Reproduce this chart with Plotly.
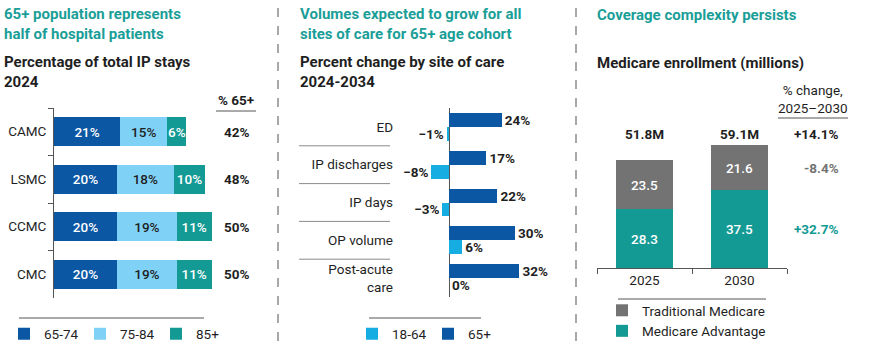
import plotly.graph_objects as go

W, H = 875, 355
def px(x): return x / W
def py(y): return 1 - y / H

FONT = "Roboto"
DARK = "#1f1f1f"
TEAL_T = "#1a9e98"
AXC = "#555555"

# ---- Left panel data ----
hospitals = ["CAMC", "LSMC", "CCMC", "CMC"]
age_groups = ["65-74", "75-84", "85+"]
share_6574 = [21, 20, 20, 20]
share_7584 = [15, 18, 19, 19]
share_85p = [6, 10, 11, 11]
pct_65plus = [42, 48, 50, 50]

# ---- Middle panel data ----
sites = ["ED", "IP discharges", "IP days", "OP volume", "Post-acute<br>care"]
chg_65plus = [24, 17, 22, 30, 32]
chg_1864 = [-1, -8, -3, 6, 0]

# ---- Right panel data ----
years = ["2025", "2030"]
medicare_adv = [28.3, 37.5]
traditional = [23.5, 21.6]
chg_traditional = "-8.4%"
chg_adv = "+32.7%"
chg_total = "+14.1%"

C_6574 = "#0b57a4"
C_7584 = "#80d1f6"
C_85 = "#139a94"
C_1864 = "#16ade3"
C_65 = "#0b57a4"
C_TM = "#737373"
C_MA = "#139a94"

fig = go.Figure()

# Left stacked bars
for name, vals, col, tcol in [("65-74", share_6574, C_6574, "white"),
                              ("75-84", share_7584, C_7584, DARK),
                              ("85+", share_85p, C_85, "white")]:
    fig.add_trace(go.Bar(
        y=hospitals, x=vals, orientation="h", name=name, xaxis="x", yaxis="y",
        width=0.61, marker=dict(color=col, line=dict(width=0)),
        texttemplate="%{x}%", textposition="inside", insidetextanchor="middle",
        textangle=0, constraintext="none",
        textfont=dict(color=tcol, size=13.5, family=FONT, weight=500),
        legend="legend", hoverinfo="skip"))

# Middle grouped bars (numeric positions per site index)
idx = list(range(len(sites)))
fig.add_trace(go.Bar(
    y=[i + 0.185 for i in idx], x=chg_1864, orientation="h", name="18-64",
    xaxis="x2", yaxis="y2", width=0.37, marker=dict(color=C_1864, line=dict(width=0)),
    texttemplate="%{x}%", textposition="outside", cliponaxis=False, constraintext="none",
    textangle=0, textfont=dict(color=DARK, size=13.5, family=FONT, weight="bold"),
    legend="legend2", hoverinfo="skip"))
fig.add_trace(go.Bar(
    y=[i - 0.185 for i in idx], x=chg_65plus, orientation="h", name="65+",
    xaxis="x2", yaxis="y2", width=0.37, marker=dict(color=C_65, line=dict(width=0)),
    texttemplate="%{x}%", textposition="outside", cliponaxis=False, constraintext="none",
    textangle=0, textfont=dict(color=DARK, size=13.5, family=FONT, weight="bold"),
    legend="legend2", hoverinfo="skip"))

# Right stacked columns
fig.add_trace(go.Bar(
    x=years, y=medicare_adv, name="Medicare Advantage", xaxis="x3", yaxis="y3",
    width=0.6, marker=dict(color=C_MA, line=dict(width=0)),
    texttemplate="%{y:.1f}", textposition="inside", insidetextanchor="middle",
    textangle=0, constraintext="none",
    textfont=dict(color="white", size=13.5, family=FONT, weight=500),
    legend="legend3", hoverinfo="skip"))
fig.add_trace(go.Bar(
    x=years, y=traditional, name="Traditional Medicare", xaxis="x3", yaxis="y3",
    width=0.6, marker=dict(color=C_TM, line=dict(width=0)),
    texttemplate="%{y:.1f}", textposition="inside", insidetextanchor="middle",
    textangle=0, constraintext="none",
    textfont=dict(color="white", size=13.5, family=FONT, weight=500),
    legend="legend3", hoverinfo="skip"))

ann = []
def text(x, y, s, size=13, color=DARK, bold=False, xanchor="left", yanchor="middle",
         xref="paper", yref="paper", align="left"):
    ann.append(dict(x=x, y=y, xref=xref, yref=yref, text=s, showarrow=False,
                    xanchor=xanchor, yanchor=yanchor, align=align,
                    font=dict(family=FONT, size=size, color=color,
                              weight="bold" if bold else "normal")))

# Titles
text(px(2), py(24), "65+ population represents<br>half of hospital patients", 15, TEAL_T, True)
text(px(2), py(72), "Percentage of total IP stays<br>2024", 15, DARK, True)
text(px(298), py(24), "Volumes expected to grow for all<br>sites of care for 65+ age cohort", 15, TEAL_T, True)
text(px(298), py(72), "Percent change by site of care<br>2024-2034", 15, DARK, True)
text(px(595), py(15), "Coverage complexity persists", 15, TEAL_T, True)
text(px(595), py(63), "Medicare enrollment (millions)", 15, DARK, True)

# Left: % 65+ column
text(px(236), py(100), "% 65+", 13.5, DARK, True, xanchor="center")
for h, v in zip(hospitals, pct_65plus):
    text(px(236), h, f"{v}%", 13.5, DARK, True, xanchor="center", yref="y")

# Right: totals and % change
text(px(813), py(99), "% change,<br>2025\u20132030", 13.5, DARK, False, xanchor="center", align="center")
for i, (a, b) in enumerate(zip(medicare_adv, traditional)):
    text(i, py(134), f"{a + b:.1f}M", 13.5, DARK, True, xanchor="center", xref="x3")
text(px(841), py(134), chg_total, 13.5, DARK, True, xanchor="right")
text(px(841), traditional[1] / 2 + medicare_adv[1], chg_traditional, 13.5, "#737373", True,
     xanchor="right", yref="y3")
text(px(841), medicare_adv[1] / 2, chg_adv, 13.5, "#139a94", True, xanchor="right", yref="y3")

shapes = []
def hline(x0, x1, y, color=AXC, width=1, yref="paper", yv=None):
    shapes.append(dict(type="line", xref="paper", yref=yref, x0=px(x0), x1=px(x1),
                       y0=py(y) if yv is None else yv, y1=py(y) if yv is None else yv,
                       line=dict(color=color, width=width)))

hline(216, 256, 111)
hline(778, 848, 118)
hline(19, 204, 318)
hline(369, 481, 318)
hline(618, 766, 299)
for k in range(1, len(sites)):
    hline(299, 390, 0, color="#8a8a8a", width=1, yref="y2", yv=k - 0.5)
for xs in (278, 576):
    shapes.append(dict(type="line", xref="paper", yref="paper", x0=px(xs), x1=px(xs),
                       y0=py(8), y1=py(345),
                       line=dict(color="#8c8c8c", width=1.5, dash="dash")))

leg_common = dict(font=dict(family=FONT, size=13.5, color=DARK), bgcolor="rgba(0,0,0,0)",
                  borderwidth=0, itemclick=False, itemdoubleclick=False)

fig.update_layout(
    width=W, height=H, margin=dict(l=0, r=0, t=0, b=0, autoexpand=False),
    paper_bgcolor="white", plot_bgcolor="white",
    barmode="stack", font=dict(family=FONT, size=13, color=DARK),
    xaxis=dict(domain=[px(54), px(54 + 60 * 3.15)], range=[0, 60], visible=False, anchor="y"),
    yaxis=dict(domain=[py(298), py(108)], anchor="x", type="category",
               categoryorder="array", categoryarray=hospitals, range=[3.5, -0.5],
               showline=True, linecolor=AXC, linewidth=1, ticks="outside", ticklen=5,
               tickcolor=AXC, tickson="boundaries", showgrid=False, zeroline=False,
               ticklabelstandoff=4, tickfont=dict(size=13.5, color=DARK)),
    xaxis2=dict(domain=[px(449 - 12 * 2.2), px(449 + 45 * 2.2)], range=[-12, 45], anchor="y2",
                showticklabels=False, showgrid=False, zeroline=True, zerolinecolor=AXC,
                zerolinewidth=1, showline=False, ticks=""),
    yaxis2=dict(domain=[py(297), py(108)], anchor="free", position=px(393), range=[4.5, -0.5],
                tickvals=idx, ticktext=sites, ticks="", showline=False, showgrid=False,
                zeroline=False, tickfont=dict(size=13.5, color=DARK)),
    xaxis3=dict(domain=[px(597), px(787)], anchor="y3", type="category", range=[-0.5, 1.5],
                showline=True, linecolor=AXC, linewidth=1, ticks="outside", ticklen=5,
                tickcolor=AXC, tickson="boundaries", showgrid=False,
                tickfont=dict(size=13.5, color=DARK)),
    yaxis3=dict(domain=[py(268), py(133)], anchor="x3", range=[0, 65], visible=False),
    legend=dict(orientation="h", x=px(4), y=py(334), xanchor="left", yanchor="middle",
                entrywidth=31, traceorder="normal", **leg_common),
    legend2=dict(orientation="h", x=px(352), y=py(334), xanchor="left", yanchor="middle",
                 entrywidth=31, traceorder="normal", **leg_common),
    legend3=dict(orientation="v", x=px(602), y=py(321), xanchor="left", yanchor="middle",
                 traceorder="reversed", **leg_common),
    annotations=ann, shapes=shapes, showlegend=True,
)

fig.write_html("out.html", config={"displayModeBar": False},
               post_script="document.body.style.margin='0';")
